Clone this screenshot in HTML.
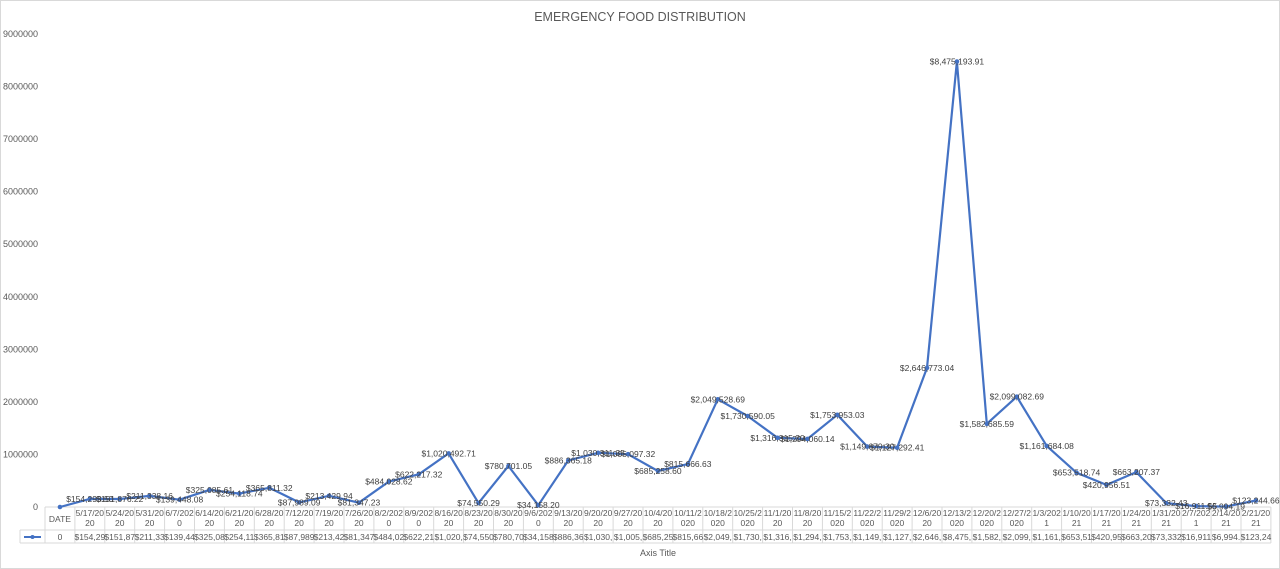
<!DOCTYPE html>
<html><head><meta charset="utf-8"><style>
html,body{margin:0;padding:0;background:#fff;}
svg{display:block;font-family:"Liberation Sans",Calibri,sans-serif;}
</style></head><body>
<svg id="s" width="1280" height="569" xmlns="http://www.w3.org/2000/svg">
<rect x="0.5" y="0.5" width="1279" height="568" fill="#fff" stroke="#d9d9d9"/>
<text x="640" y="21" text-anchor="middle" font-size="12.5" fill="#595959">EMERGENCY FOOD DISTRIBUTION</text>
<text x="658" y="556" text-anchor="middle" font-size="9" fill="#595959">Axis Title</text>
</svg>
<script>
var s=document.getElementById('s'),NS='http://www.w3.org/2000/svg';
function el(t,a,txt){var e=document.createElementNS(NS,t);for(var k in a)e.setAttribute(k,a[k]);if(txt!=null)e.textContent=txt;s.appendChild(e);return e;}
var dates=['5/17/2020','5/24/2020','5/31/2020','6/7/2020','6/14/2020','6/21/2020','6/28/2020','7/12/2020','7/19/2020','7/26/2020','8/2/2020','8/9/2020','8/16/2020','8/23/2020','8/30/2020','9/6/2020','9/13/2020','9/20/2020','9/27/2020','10/4/2020','10/11/2020','10/18/2020','10/25/2020','11/1/2020','11/8/2020','11/15/2020','11/22/2020','11/29/2020','12/6/2020','12/13/2020','12/20/2020','12/27/2020','1/3/2021','1/10/2021','1/17/2021','1/24/2021','1/31/2021','2/7/2021','2/14/2021','2/21/2021'];
var vals=[0,154293.5,151876.22,211338.16,139448.08,325085.61,254118.74,365811.32,87989.09,213429.94,81347.23,484028.62,622217.32,1020492.71,74550.29,780701.05,34158.20,886365.18,1030311.35,1005097.32,685258.60,815666.63,2049528.69,1730590.05,1316315.2,1294060.14,1753953.03,1149679.3,1127292.41,2646773.04,8475193.91,1582685.59,2099082.69,1161684.08,653518.74,420956.51,663207.37,73332.43,16911.55,6994.19,123244.66];
var y0=507,pm=52.56,x0=45,cw=29.9;
function Y(v){return y0-v/1e6*pm;}
for(var m=0;m<=9;m++){el('text',{x:38,y:Y(m*1e6)+3,'text-anchor':'end','font-size':9,fill:'#595959'},m==0?'0':String(m*1000000));}
var L=20,R=x0+cw*41,r1=507,r2=530,r3=543;
el('line',{x1:x0,y1:r1,x2:R,y2:r1,stroke:'#d9d9d9'});
el('line',{x1:L,y1:r2,x2:R,y2:r2,stroke:'#d9d9d9'});
el('line',{x1:L,y1:r3,x2:R,y2:r3,stroke:'#d9d9d9'});
el('line',{x1:L,y1:r2,x2:L,y2:r3,stroke:'#d9d9d9'});
for(var i=0;i<=41;i++){var x=x0+cw*i;el('line',{x1:x,y1:r1,x2:x,y2:r3,stroke:'#d9d9d9'});}
el('text',{x:x0+cw/2,y:522,'text-anchor':'middle','font-size':8.5,fill:'#595959'},'DATE');
el('text',{x:x0+cw/2,y:540,'text-anchor':'middle','font-size':8.5,fill:'#595959'},'0');
el('line',{x1:24,y1:537,x2:41,y2:537,stroke:'#4472c4','stroke-width':2});
el('circle',{cx:32.5,cy:537,r:2,fill:'#4472c4'});
function money(v){var p=v.toFixed(2).split('.');return '$'+p[0].replace(/\B(?=(\d{3})+(?!\d))/g,',')+'.'+p[1];}
for(var i=0;i<40;i++){var cx=x0+cw*(i+1)+cw/2,d=dates[i];
 var a=d.slice(0,7),b=d.slice(7);
 el('text',{x:cx,y:516,'text-anchor':'middle','font-size':8.5,fill:'#595959'},a);
 el('text',{x:cx,y:526,'text-anchor':'middle','font-size':8.5,fill:'#595959'},b);
 el('text',{x:cx,y:540,'text-anchor':'middle','font-size':8.5,fill:'#595959'},money(vals[i+1]).slice(0,7));
}
var pts=vals.map(function(v,i){return (x0+cw*(i+0.5)).toFixed(1)+','+Y(v).toFixed(1);});
el('polyline',{points:pts.join(' '),fill:'none',stroke:'#4472c4','stroke-width':2.2,'stroke-linejoin':'round'});
vals.forEach(function(v,i){var x=x0+cw*(i+0.5);el('circle',{cx:x,cy:Y(v),r:2.3,fill:'#4472c4'});
 if(i>0)el('text',{x:x,y:Y(v)+3,'text-anchor':'middle','font-size':8.5,fill:'#404040'},money(v));});
</script>
</body></html>
